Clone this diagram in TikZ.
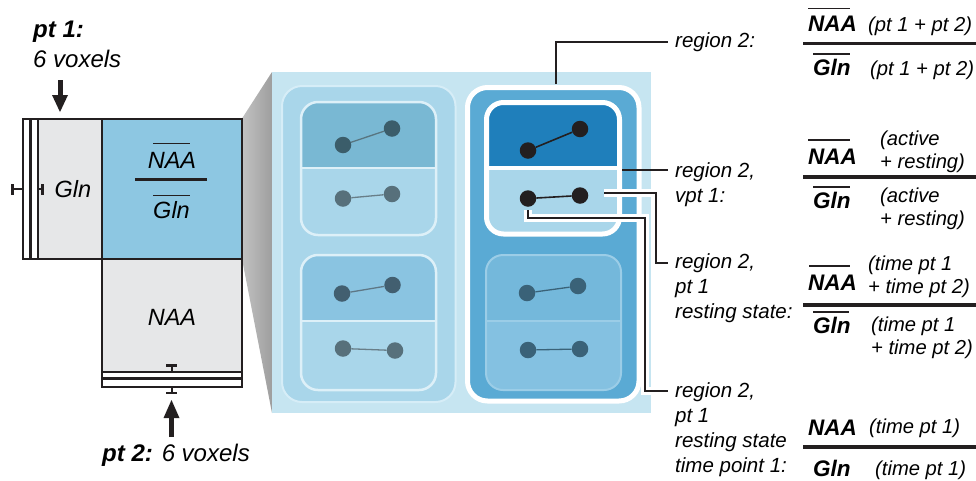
\documentclass[tikz,border=0pt]{standalone}
\usepackage{fontspec}
\setmainfont{Liberation Sans}
\usetikzlibrary{calc}
\definecolor{ink}{HTML}{231F20}
\definecolor{panelc}{HTML}{C6E5F1}
\definecolor{regone}{HTML}{A9D6EA}
\definecolor{regoneline}{HTML}{D6EDF7}
\definecolor{celltopa}{HTML}{79B8D3}
\definecolor{celltopb}{HTML}{8AC4E1}
\definecolor{cellline}{HTML}{DDF0F8}
\definecolor{regtwo}{HTML}{5AAAD4}
\definecolor{darkcell}{HTML}{1F7FBB}
\definecolor{celltopc}{HTML}{74B8DB}
\definecolor{cellbotc}{HTML}{84C1E1}
\definecolor{celllinec}{HTML}{9BCDE7}
\definecolor{bluebox}{HTML}{8DC7E2}
\definecolor{graybox}{HTML}{E6E7E8}
\definecolor{dota}{HTML}{3B5D6A}
\definecolor{dotb}{HTML}{57707B}
\definecolor{dotc}{HTML}{425F70}
\definecolor{dotr}{HTML}{3A6278}
\newcommand\drawcell[7]{%
  \begin{scope}
    \clip[rounded corners=17pt] (#1,#2) rectangle (#3,#4);
    \fill[#6] (#1,#2) rectangle (#3,#5);
    \fill[#7] (#1,#5) rectangle (#3,#4);
  \end{scope}}
\tikzset{
  lab/.style={font=\fontsize{20.5}{25}\selectfont\itshape, anchor=base west, inner sep=0pt, align=left},
  qual/.style={font=\fontsize{20.2}{22.5}\selectfont\itshape, anchor=base west, inner sep=0pt, align=left},
  met/.style={font=\fontsize{22.5}{27}\selectfont\bfseries\itshape, anchor=base west, inner sep=0pt},
  boxtxt/.style={font=\fontsize{23.5}{28}\selectfont\itshape, anchor=base, inner sep=0pt},
  side/.style={font=\fontsize{24}{29.5}\selectfont\itshape, anchor=base west, inner sep=0pt, align=left},
  frule/.style={line width=3.3pt, draw=ink},
  obar/.style={line width=1.2pt, draw=ink},
  boxline/.style={line width=2pt, draw=ink},
  leader/.style={line width=2.6pt, draw=ink, line join=miter},
  halo/.style={line width=7.5pt, draw=white, line join=miter},
  dot/.style={circle, inner sep=0pt, minimum size=16.5pt},
  link/.style={line width=1.3pt},
}
\begin{document}
\begin{tikzpicture}[x=1pt,y=-1pt]
\useasboundingbox (0,0) rectangle (976,480);

% ---------- left voxel boxes ----------
\shade[left color=black!24, right color=black!38] (242,118.5) -- (272,72) -- (272,413) -- (242,259) -- cycle;
\fill[graybox] (38.3,118.5) rectangle (101.5,259);
\fill[white] (22.5,118.5) rectangle (38.3,259);
\fill[bluebox] (101.5,118.5) rectangle (242,259);
\fill[graybox] (101.5,259) rectangle (242,371.7);
\fill[white] (101.5,371.7) rectangle (242,386.5);
\draw[boxline] (22.5,118.5) rectangle (101.5,259);
\draw[line width=3pt, ink] (30.5,118.5) -- (30.5,259);
\draw[boxline] (38.3,118.5) -- (38.3,259);
\draw[boxline] (101.5,118.5) rectangle (242,259);
\draw[boxline] (101.5,259) rectangle (242,386.5);
\draw[boxline] (101.5,371.7) -- (242,371.7);
\draw[line width=3pt, ink] (101.5,378.8) -- (242,378.8);
% ticks
\draw[boxline] (12.5,189.3) -- (22.5,189.3);
\draw[line width=2.6pt, ink] (12.5,184) -- (12.5,195);
\draw[boxline] (38.3,189.3) -- (42.5,189.3);
\draw[line width=2.6pt, ink] (42.5,184) -- (42.5,195);
\draw[boxline] (171.5,365.5) -- (171.5,371.7);
\draw[line width=2.6pt, ink] (166,365.5) -- (177,365.5);
\draw[boxline] (171.5,386.5) -- (171.5,393);
\draw[line width=2.6pt, ink] (166,393) -- (177,393);

% box texts
\node[boxtxt] (glnA) at (73,197) {Gln};
\node[boxtxt] (naaB) at (172,168) {NAA};
\node[boxtxt] (glnB) at (171.5,218.5) {Gln};
\draw[obar] (153,143.5) -- (190,143.5);
\draw[line width=3pt, ink] (135,179.5) -- (207,179.5);
\draw[obar] (153,195.7) -- (190,195.7);
\node[boxtxt] (naaC) at (172,325) {NAA};

% side labels and arrows
\node[side] (pone) at (33,67) {{\bfseries pt 1:}\\6 voxels};
\node[side] (ptwo) at (102,461) {{\bfseries pt 2:} 6 voxels};
\coordinate (aonet) at (60,80);
\coordinate (aoneh) at (60,112);
\draw[line width=5pt, ink] (aonet) -- ($(aoneh)+(0,-16)$);
\fill[ink] ($(aoneh)+(-8,-17)$) -- ($(aoneh)+(8,-17)$) -- (aoneh) -- cycle;
\coordinate (atwot) at (171.5,437);
\coordinate (atwoh) at (171.5,400);
\draw[line width=5pt, ink] (atwot) -- ($(atwoh)+(0,16)$);
\fill[ink] ($(atwoh)+(-8,18)$) -- ($(atwoh)+(8,18)$) -- (atwoh) -- cycle;

% ---------- zoomed panel ----------
\fill[panelc] (272,72) rectangle (651,413);
% region 1
\fill[regone, draw=regoneline, line width=2pt, rounded corners=20pt] (282,86) rectangle (455.5,402);
\drawcell{301}{102}{436}{235}{168}{celltopa}{regone}
\draw[cellline, line width=2.5pt, rounded corners=17pt] (301,102) rectangle (436,235);
\draw[cellline, line width=2pt] (301,168) -- (436,168);
\drawcell{301}{255}{436}{390}{321}{celltopb}{regone}
\draw[cellline, line width=2.5pt, rounded corners=17pt] (301,255) rectangle (436,390);
\draw[cellline, line width=2pt] (301,321) -- (436,321);
% region 2
\fill[regtwo, draw=white, line width=5pt, rounded corners=20pt] (467.5,87.5) rectangle (639,401);
\drawcell{486.5}{102.5}{619.5}{234}{168}{darkcell}{regone}
\draw[white, line width=5pt, rounded corners=17pt] (486.5,102.5) rectangle (619.5,234);
\draw[white, line width=4pt] (486.5,168) -- (619.5,168);
\drawcell{486}{255}{621}{390}{321}{celltopc}{cellbotc}
\draw[celllinec, line width=2pt, rounded corners=17pt] (486,255) rectangle (621,390);
\draw[celllinec, line width=2pt] (486,321) -- (621,321);

% dots
\node[dot, fill=dota] (a1) at (343,145) {};
\node[dot, fill=dota] (a2) at (392,128.5) {};
\node[dot, fill=dotb] (a3) at (343,198.5) {};
\node[dot, fill=dotb] (a4) at (392,194) {};
\node[dot, fill=dotc] (b1) at (342,293.5) {};
\node[dot, fill=dotc] (b2) at (392.5,285) {};
\node[dot, fill=dotb] (b3) at (343,348.5) {};
\node[dot, fill=dotb] (b4) at (395,350.5) {};
\node[dot, fill=ink] (c1) at (528,150.5) {};
\node[dot, fill=ink] (c2) at (580,129) {};
\node[dot, fill=ink] (c3) at (528,198.5) {};
\node[dot, fill=ink] (c4) at (580,195.5) {};
\node[dot, fill=dotr] (e1) at (527,293) {};
\node[dot, fill=dotr] (e2) at (578,286) {};
\node[dot, fill=dotr] (e3) at (528,350) {};
\node[dot, fill=dotr] (e4) at (580,349) {};
\draw[link, draw=dota!85!white] (a1) -- (a2);
\draw[link, draw=dotb!90!white] (a3) -- (a4);
\draw[link, draw=dotc!85!white] (b1) -- (b2);
\draw[link, draw=dotb!90!white] (b3) -- (b4);
\draw[link, draw=ink, line width=1.6pt] (c1) -- (c2);
\draw[link, draw=ink, line width=1.6pt] (c3) -- (c4);
\draw[link, draw=dotr] (e1) -- (e2);
\draw[link, draw=dotr] (e3) -- (e4);

% ---------- labels (base anchor = baseline of last line) ----------
\node[lab] (r1) at (675,47) {region 2:};
\node[lab] (r2) at (675,202.5) {region 2,\\vpt 1:};
\node[lab] (r3) at (675,318) {region 2,\\pt 1\\resting state:};
\node[lab] (r4) at (675,472) {region 2,\\pt 1\\resting state\\time point 1:};

% leaders
\coordinate (s1) at (556,84);
\coordinate (s2) at (622,170);
\coordinate (s3) at (604,193);
\coordinate (s4) at ($(c3.south)+(0,3)$);
\coordinate (t1) at ($(r1.base west)+(-7,-5)$);
\coordinate (t2) at ($(r2.base west)+(-7,-32.5)$);
\coordinate (t3) at ($(r3.base west)+(-7,-55)$);
\coordinate (t4) at ($(r4.base west)+(-7,-81)$);
\draw[halo] (s3) -| ($(t3)+(-12,0)$) -- (t3);
\draw[halo] (s4) -- ++(0,8) -| ($(t4)+(-23,0)$) -- (t4);
\draw[leader] (s1) |- (t1);
\draw[leader] (s2) -- (t2);
\draw[leader] (s3) -| ($(t3)+(-12,0)$) -- (t3);
\draw[leader] (s4) -- ++(0,8) -| ($(t4)+(-23,0)$) -- (t4);

% ---------- fractions ----------
% 1
\node[met] (fa1) at (808,31.5) {NAA};
\draw[obar] (808,8.3) -- (850,8.3);
\node[qual] (qa1) at (868,31) {(pt 1 + pt 2)};
\draw[frule] (803,43.5) -- (976,43.5);
\draw[obar] (813,54) -- (850,54);
\node[met] (fa2) at (813,75) {Gln};
\node[qual] (qa2) at (870,75) {(pt 1 + pt 2)};
% 2
\node[met] (fb1) at (808,164) {NAA};
\draw[obar] (808,140) -- (850,140);
\node[qual] (qb1) at (880,168) {(active\\+ resting)};
\draw[frule] (803,177) -- (976,177);
\draw[obar] (813,187) -- (850,187);
\node[met] (fb2) at (813,208) {Gln};
\node[qual] (qb2) at (880,225) {(active\\+ resting)};
% 3
\node[met] (fc1) at (808,290) {NAA};
\draw[obar] (809,266) -- (850,266);
\node[qual] (qc1) at (868,293) {(time pt 1\\+ time pt 2)};
\draw[frule] (803,305) -- (976,305);
\draw[obar] (813,312) -- (849,312);
\node[met] (fc2) at (813,333) {Gln};
\node[qual] (qc2) at (871,354) {(time pt 1\\+ time pt 2)};
% 4
\node[met] (fd1) at (808,435) {NAA};
\node[qual] (qd1) at (869,433) {(time pt 1)};
\draw[frule] (803,447) -- (976,447);
\node[met] (fd2) at (813,476) {Gln};
\node[qual] (qd2) at (875,475) {(time pt 1)};
\end{tikzpicture}
\end{document}
